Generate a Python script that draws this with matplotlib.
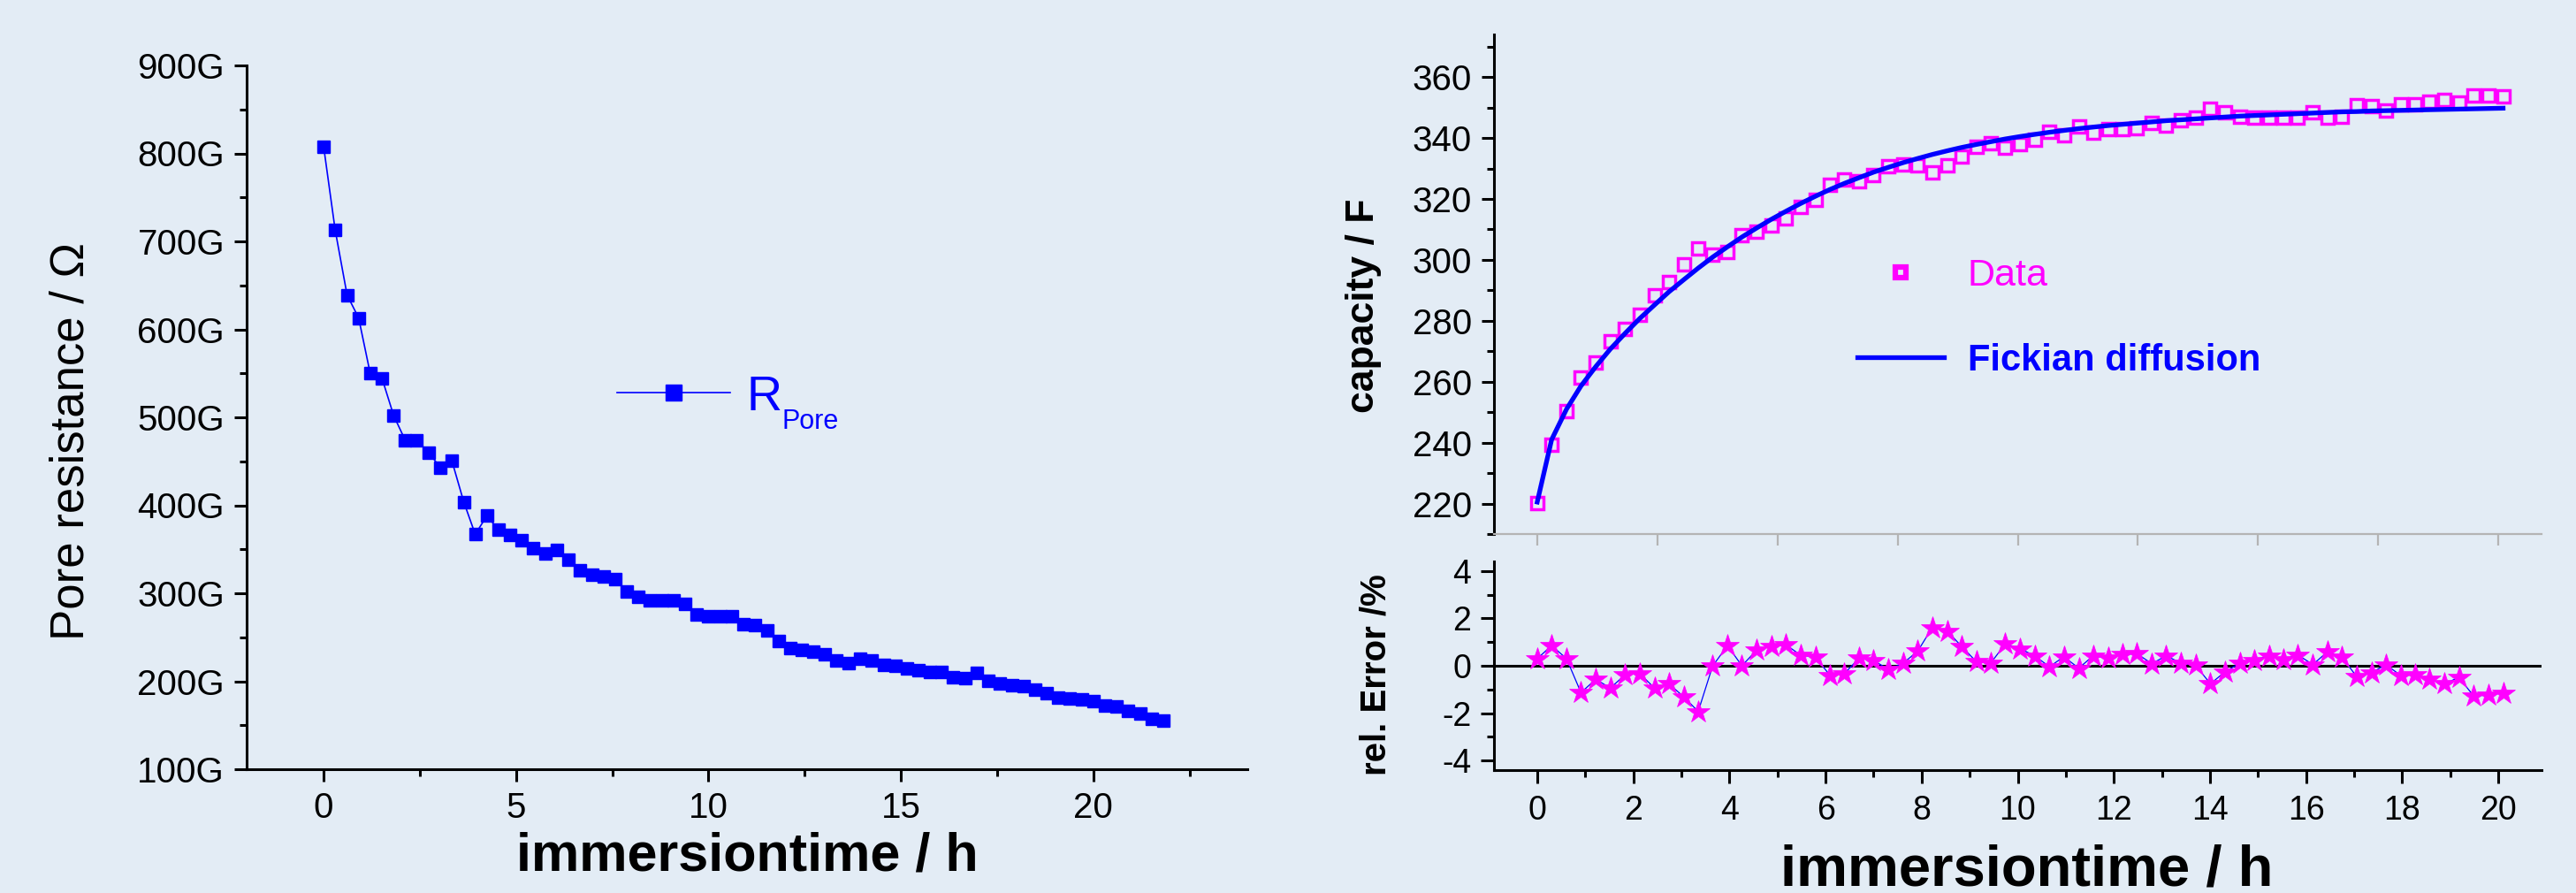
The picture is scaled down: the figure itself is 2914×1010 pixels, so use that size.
import matplotlib
matplotlib.use('Agg')
import matplotlib.pyplot as plt
from matplotlib.ticker import MultipleLocator, FuncFormatter

plt.rcParams['font.family'] = ['Liberation Sans', 'DejaVu Sans']
plt.rcParams['mathtext.fontset'] = 'custom'
plt.rcParams['mathtext.rm'] = 'Liberation Sans'
plt.rcParams['axes.unicode_minus'] = False

BG = '#e3ecf5'
BLUE = '#0000ff'
MAGENTA = '#ff00ff'
GREY = '#b4b4b4'

# ---------------- data ----------------
pore_time = [0.00, 0.30, 0.61, 0.91, 1.21, 1.52, 1.82, 2.12, 2.42, 2.73,
             3.03, 3.33, 3.64, 3.94, 4.24, 4.55, 4.85, 5.15, 5.45, 5.76,
             6.06, 6.36, 6.67, 6.97, 7.27, 7.58, 7.88, 8.18, 8.48, 8.79,
             9.09, 9.39, 9.70, 10.00, 10.30, 10.61, 10.91, 11.21, 11.52, 11.82,
             12.12, 12.42, 12.73, 13.03, 13.33, 13.64, 13.94, 14.24, 14.55, 14.85,
             15.15, 15.45, 15.76, 16.06, 16.36, 16.67, 16.97, 17.27, 17.58, 17.88,
             18.18, 18.48, 18.79, 19.09, 19.39, 19.70, 20.00, 20.30, 20.61, 20.91,
             21.21, 21.52, 21.82]
pore_R = [808, 713, 639, 613, 550, 544, 502, 474, 474, 460,
          443, 451, 404, 367, 388, 372, 366, 360, 351, 345,
          349, 338, 326, 321, 319, 316, 302, 296, 292, 292,
          292, 288, 276, 274, 274, 274, 265, 264, 258, 246,
          238, 236, 234, 231, 224, 221, 226, 224, 219, 218,
          215, 213, 211, 211, 205, 204, 210, 201, 197, 195,
          194, 190, 186, 181, 180, 179, 177, 172, 171, 166,
          163, 157, 155]  # in G-Ohm

cap_time = [0.00, 0.30, 0.61, 0.91, 1.22, 1.52, 1.83, 2.13, 2.44, 2.74,
            3.05, 3.35, 3.65, 3.96, 4.26, 4.57, 4.87, 5.18, 5.48, 5.79,
            6.09, 6.39, 6.70, 7.00, 7.31, 7.61, 7.92, 8.22, 8.53, 8.83,
            9.14, 9.44, 9.74, 10.05, 10.35, 10.66, 10.96, 11.27, 11.57, 11.88,
            12.18, 12.48, 12.79, 13.09, 13.40, 13.70, 14.01, 14.31, 14.62, 14.92,
            15.23, 15.53, 15.83, 16.14, 16.44, 16.75, 17.05, 17.36, 17.66, 17.97,
            18.27, 18.57, 18.88, 19.18, 19.49, 19.79, 20.10]
cap_data = [220.1, 239.3, 250.3, 261.3, 266.4, 273.3, 277.4, 282.0, 288.3, 292.6,
            298.4, 303.7, 301.7, 302.6, 308.2, 309.2, 311.4, 313.6, 317.3, 319.8,
            324.7, 326.5, 325.9, 327.9, 330.7, 331.2, 331.0, 328.8, 331.0, 334.0,
            337.0, 338.2, 336.8, 337.9, 339.6, 342.1, 341.0, 343.7, 341.8, 342.9,
            342.9, 343.2, 345.1, 344.0, 345.7, 346.8, 349.6, 348.5, 347.0, 346.8,
            346.6, 346.8, 346.6, 348.5, 346.6, 347.0, 350.7, 350.4, 349.0, 351.0,
            351.0, 351.8, 352.6, 351.6, 354.0, 354.0, 353.7]
cap_fit = [220.5, 241.0, 251.0, 258.6, 265.0, 270.7, 275.9, 280.7, 285.2, 289.5,
           293.5, 297.3, 300.9, 304.3, 307.5, 310.5, 313.3, 316.0, 318.5, 320.9,
           323.1, 325.1, 327.0, 328.8, 330.4, 331.9, 333.3, 334.6, 335.8, 336.9,
           337.9, 338.8, 339.7, 340.5, 341.2, 341.9, 342.5, 343.1, 343.6, 344.1,
           344.5, 344.9, 345.3, 345.7, 346.0, 346.3, 346.6, 346.9, 347.2, 347.4,
           347.6, 347.8, 348.0, 348.2, 348.4, 348.6, 348.7, 348.9, 349.0, 349.1,
           349.2, 349.3, 349.4, 349.5, 349.6, 349.7, 349.8]
rel_error = [0.30, 0.85, 0.30, -1.13, -0.57, -0.94, -0.38, -0.32, -0.94, -0.76,
             -1.31, -1.93, -0.01, 0.85, 0.00, 0.67, 0.82, 0.88, 0.45, 0.37,
             -0.40, -0.33, 0.32, 0.22, -0.15, 0.10, 0.62, 1.61, 1.47, 0.82,
             0.17, 0.12, 0.92, 0.72, 0.42, -0.04, 0.38, -0.10, 0.42, 0.33,
             0.48, 0.51, 0.09, 0.42, 0.11, 0.02, -0.76, -0.26, 0.11, 0.24,
             0.42, 0.27, 0.46, 0.05, 0.58, 0.36, -0.45, -0.30, 0.05, -0.41,
             -0.38, -0.57, -0.76, -0.49, -1.28, -1.23, -1.15]

# ---------------- figure ----------------
W, H = 2914, 1010
fig = plt.figure(figsize=(W / 100, H / 100), dpi=100, facecolor=BG)


def rect(x0, y0, x1, y1):
    return [x0 / W, 1 - y1 / H, (x1 - x0) / W, (y1 - y0) / H]


ax1 = fig.add_axes(rect(279, 74, 1411, 870))
ax2 = fig.add_axes(rect(1690, 39, 2875, 604))
ax3 = fig.add_axes(rect(1690, 635, 2875, 871))

for ax in (ax1, ax2, ax3):
    ax.set_facecolor('none')
    ax.spines['top'].set_visible(False)
    ax.spines['right'].set_visible(False)
    ax.spines['left'].set_linewidth(2.2)
    ax.spines['bottom'].set_linewidth(2.2)

# ---- left panel ----
ax1.plot(pore_time, pore_R, '-', color=BLUE, lw=1.2, marker='s', ms=9.8,
         mfc=BLUE, mec=BLUE, label='R')
ax1.set_xlim(-2, 24)
ax1.set_ylim(100, 900)
ax1.xaxis.set_major_locator(MultipleLocator(5))
ax1.xaxis.set_minor_locator(MultipleLocator(2.5))
ax1.yaxis.set_major_locator(MultipleLocator(100))
ax1.yaxis.set_minor_locator(MultipleLocator(50))
ax1.yaxis.set_major_formatter(FuncFormatter(lambda v, p: f'{int(round(v))}G'))
ax1.tick_params(which='major', length=10, width=2.2, direction='out', labelsize=29, pad=8)
ax1.tick_params(which='minor', length=5.5, width=2.2, direction='out')
ax1.set_ylabel('Pore resistance / Ω', fontsize=38)
ax1.yaxis.set_label_coords(-0.153, 0.466)
ax1.set_xlabel('immersiontime / h', fontsize=44, fontweight='bold')
ax1.xaxis.set_label_coords(0.5, -0.088)

leg1 = ax1.legend(loc='center left', bbox_to_anchor=(0.37, 0.528), frameon=False,
                  fontsize=40, handlelength=2.3, handletextpad=0.34, borderpad=0,
                  borderaxespad=0, markerscale=1.25)
leg1.get_texts()[0].set_color(BLUE)
ax1.annotate('Pore', xy=(1, 0), xycoords=leg1.get_texts()[0], xytext=(0, -7),
             textcoords='offset points', fontsize=22, color=BLUE,
             ha='left', va='baseline', zorder=10, annotation_clip=False)

# ---- right top panel ----
ax2.plot(cap_time, cap_data, ls='none', marker='s', ms=10, mfc='none',
         mec=MAGENTA, mew=2.5, label='Data')
ax2.plot(cap_time, cap_fit, '-', color=BLUE, lw=3.8, label='Fickian diffusion')
ax2.set_xlim(-0.9, 20.9)
ax2.set_ylim(210, 374)
ax2.spines['bottom'].set_color(GREY)
ax2.spines['bottom'].set_linewidth(1.6)
ax2.xaxis.set_major_locator(MultipleLocator(2.5))
ax2.tick_params(axis='x', which='major', length=9.4, width=1.6, color=GREY,
                direction='out', labelbottom=False)
ax2.yaxis.set_major_locator(MultipleLocator(20))
ax2.yaxis.set_minor_locator(MultipleLocator(10))
ax2.tick_params(axis='y', which='major', length=10, width=2.2, direction='out',
                labelsize=29, pad=8)
ax2.tick_params(axis='y', which='minor', length=5.5, width=2.2, direction='out')
ax2.set_ylabel('capacity / F', fontsize=32, fontweight='bold')
ax2.yaxis.set_label_coords(-0.107, 0.457)

leg2 = ax2.legend(loc='center left', bbox_to_anchor=(0.347, 0.432), frameon=False,
                  fontsize=30, handlelength=2.35, handletextpad=0.64,
                  labelspacing=1.35, borderpad=0, borderaxespad=0)
t_data, t_fit = leg2.get_texts()
t_data.set_color(MAGENTA)
t_data.set_fontsize(31)
t_fit.set_color(BLUE)
t_fit.set_fontweight('bold')
h_data = leg2.legend_handles[0]
h_data.set_markersize(8)
h_data.set_markeredgewidth(4.5)

# ---- right bottom panel ----
ax3.axhline(0, color='black', lw=2.2, zorder=3)
ax3.plot(cap_time, rel_error, '-', color=BLUE, lw=0.9, marker='*', ms=19,
         mfc=MAGENTA, mec=MAGENTA, mew=0.5, zorder=4)
ax3.set_xlim(-0.9, 20.9)
ax3.set_ylim(-4.4, 4.4)
ax3.xaxis.set_major_locator(MultipleLocator(2))
ax3.xaxis.set_minor_locator(MultipleLocator(1))
ax3.yaxis.set_major_locator(MultipleLocator(2))
ax3.yaxis.set_minor_locator(MultipleLocator(1))
ax3.tick_params(which='major', length=10.5, width=2.2, direction='out')
ax3.tick_params(which='minor', length=5.5, width=2.2, direction='out')
ax3.tick_params(axis='x', which='major', labelsize=27, pad=10)
ax3.tick_params(axis='y', which='major', labelsize=27, pad=8)
ax3.set_ylabel('rel. Error /%', fontsize=29, fontweight='bold')
ax3.yaxis.set_label_coords(-0.097, 0.458)
ax3.set_xlabel('immersiontime / h', fontsize=47, fontweight='bold')
ax3.xaxis.set_label_coords(0.509, -0.355)

fig.canvas.draw()
fig.savefig('out.png', dpi=100, facecolor=BG)
